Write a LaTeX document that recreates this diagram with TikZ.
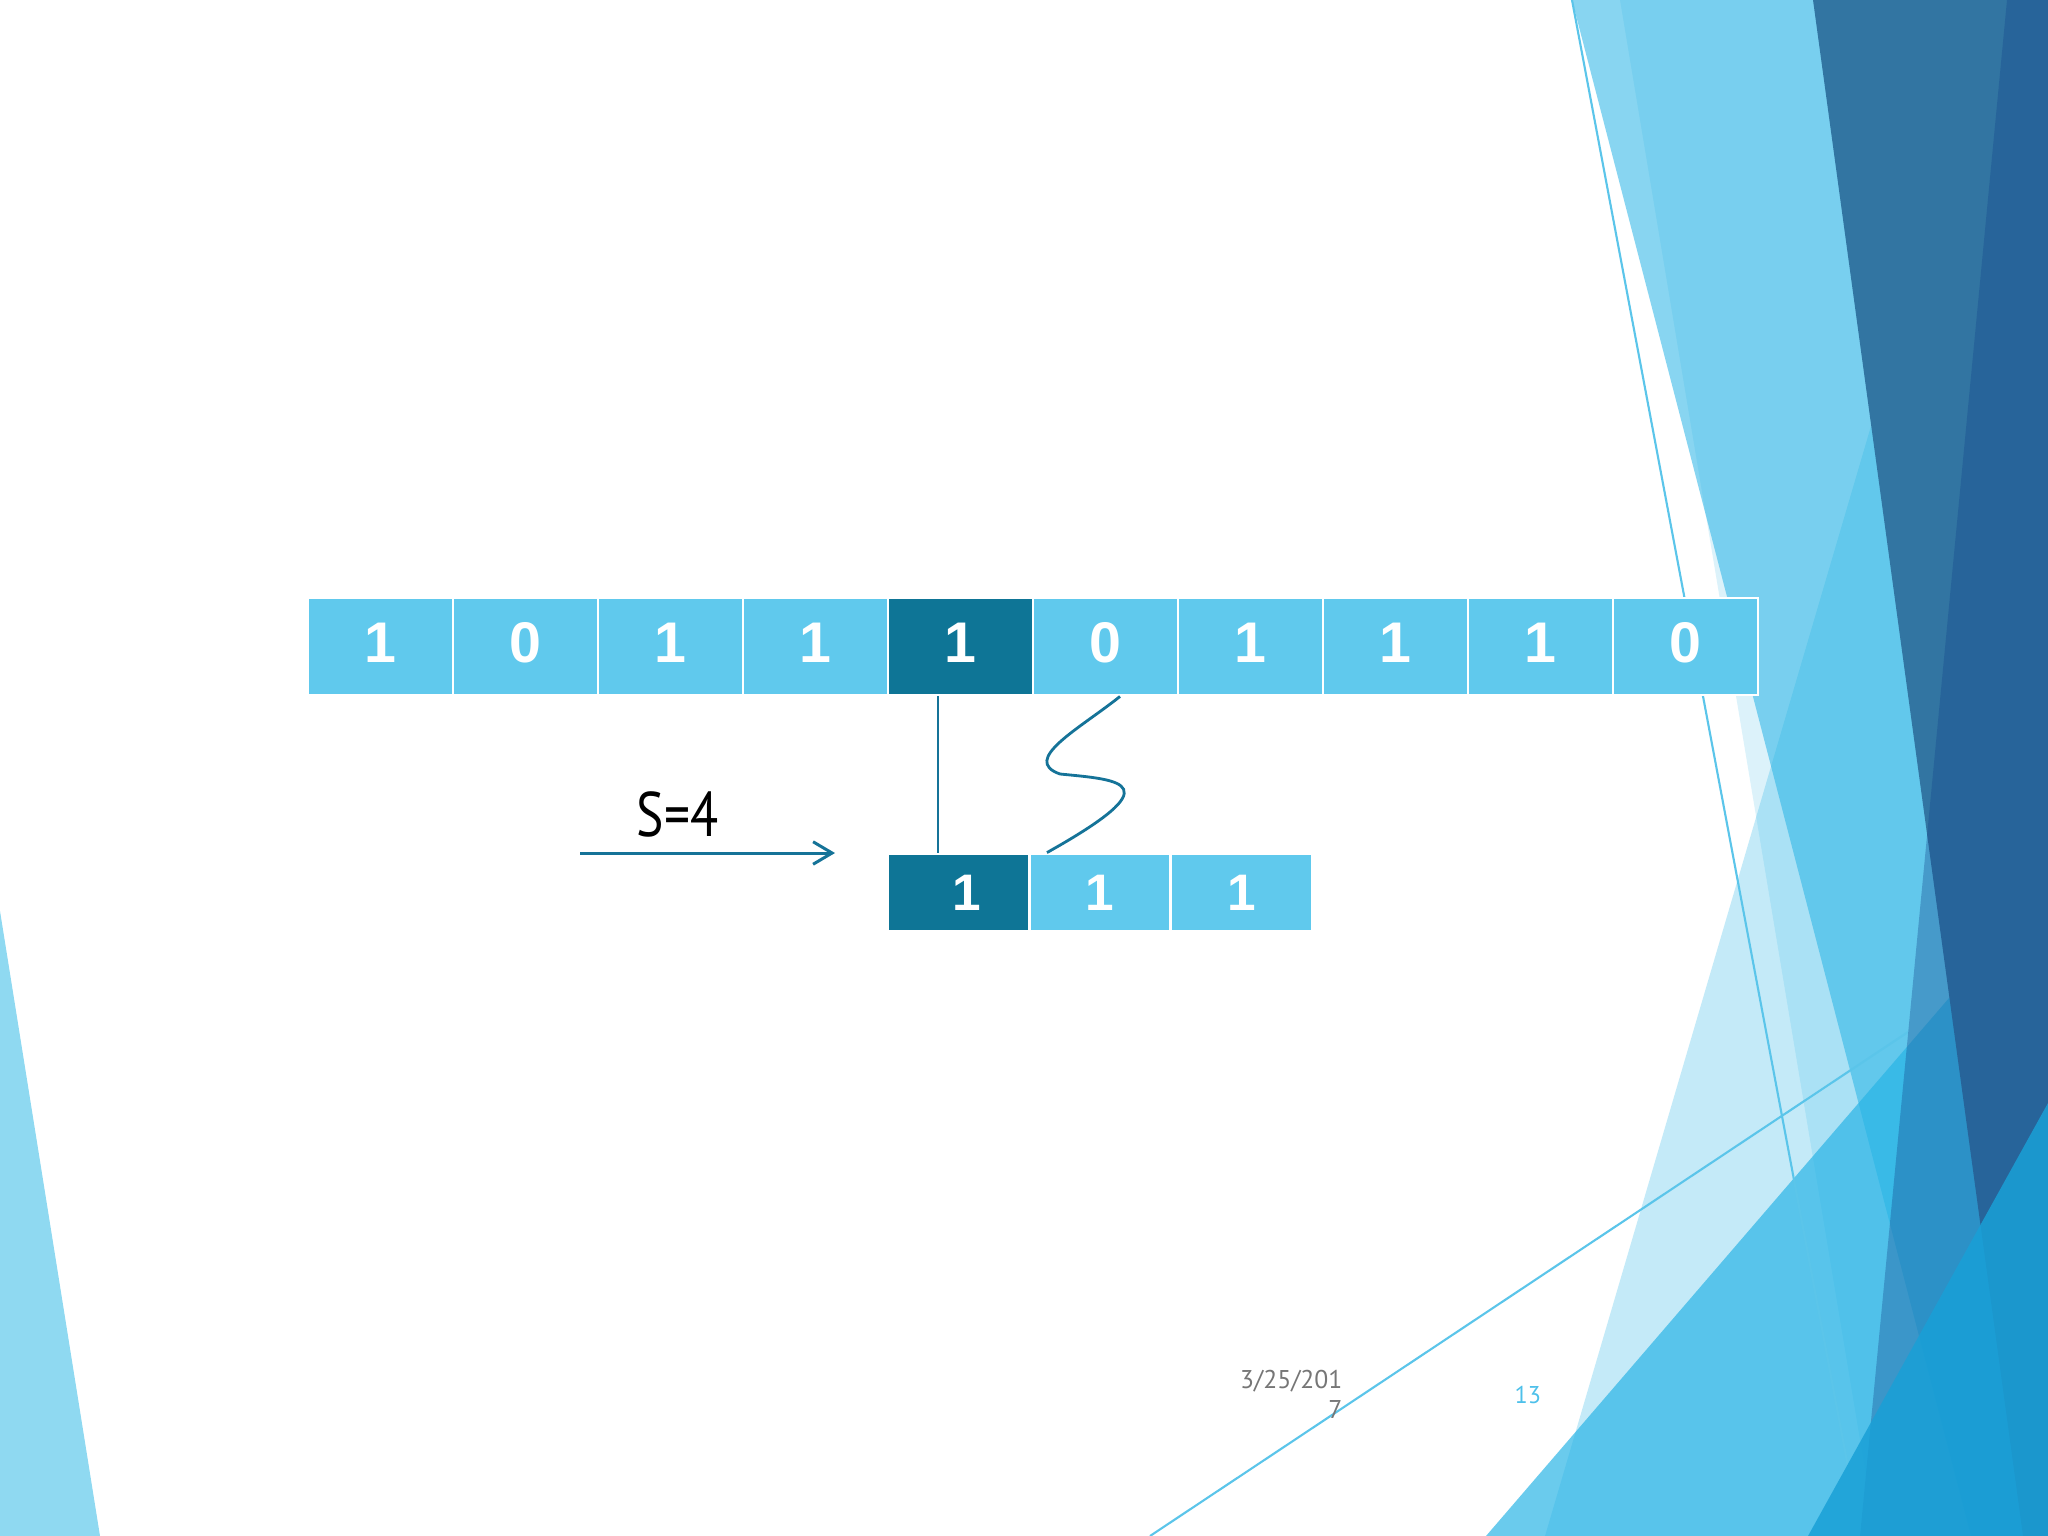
\documentclass[tikz,border=0pt]{standalone}
\usepackage{fontspec}
\usetikzlibrary{arrows.meta}
\newfontfamily\cellfont{Liberation Sans}
\newfontfamily\sfont[FakeStretch=0.82]{PT Sans}
\newfontfamily\datefont{PT Sans}
\definecolor{cellLight}{RGB}{96,201,237}
\definecolor{cellDark}{RGB}{14,117,150}
\definecolor{connC}{RGB}{21,115,152}
\definecolor{lineC}{RGB}{91,197,234}
\definecolor{accentA}{RGB}{40,180,230}
\definecolor{leftC}{RGB}{143,217,241}
\definecolor{darkC}{RGB}{50,117,162}
\definecolor{bandC}{RGB}{20,70,140}
\definecolor{triC}{RGB}{25,160,215}
\definecolor{dateC}{RGB}{118,118,118}
\definecolor{numC}{RGB}{77,192,234}
\begin{document}
\begin{tikzpicture}[x=0.01cm,y=-0.01cm,
  cellL/.style={draw=white,line width=0.8pt,fill=cellLight,minimum width=1.45cm,minimum height=0.97cm,inner sep=0pt,text depth=2.2pt,text=white,font={\cellfont\bfseries\fontsize{16.3}{19}\selectfont}},
  cellD/.style={cellL,fill=cellDark},
  bcellL/.style={cellL,minimum width=1.413cm,minimum height=0.77cm,text depth=0pt,font={\cellfont\bfseries\fontsize{14.6}{17}\selectfont}},
  bcellD/.style={bcellL,fill=cellDark},
  conn/.style={draw=connC,line width=0.85pt},
  thinline/.style={draw=lineC,line width=0.6pt},
  facet/.style={fill=accentA,draw=none}
]
\useasboundingbox (0,0) rectangle (2048,1536);
\fill[white] (0,0) rectangle (2048,1536);
\begin{scope}
\clip (0,0) rectangle (2048,1536);
% left decoration
\fill[leftC] (0,911) -- (100,1536) -- (0,1536) -- cycle;
% right facets
\fill[facet,fill opacity=0.27] (1871,426) -- (1545,1536) -- (2048,1536) -- (2048,426) -- cycle;
\fill[facet,fill opacity=0.55] (1572,0) -- (1971,1536) -- (2048,1536) -- (2048,0) -- cycle;
\fill[facet,fill opacity=0.16] (1620,0) -- (1876,1536) -- (2048,1536) -- (2048,0) -- cycle;
\fill[facet,fill opacity=0.69] (1486,1536) -- (2048,883) -- (2048,1536) -- cycle;
\draw[thinline] (1572,0) -- (1861,1536);
\draw[thinline] (1150,1536) -- (1908,1032);
\fill[darkC] (1813,0) -- (2048,0) -- (2048,1536) -- (2023,1536) -- cycle;
\fill[bandC,fill opacity=0.35] (2007,0) -- (2048,0) -- (2048,1536) -- (1860,1536) -- cycle;
\fill[triC,fill opacity=0.85] (1808,1536) -- (2048,1103) -- (2048,1536) -- cycle;
\end{scope}
% top row
\foreach \i/\v in {1/1,2/0,3/1,4/1,6/0,7/1,8/1,9/1,10/0}
  \node[cellL] (t\i) at ({308+145*\i-72.5},646.5) {\v};
\node[cellD] (t5) at (960.5,646.5) {1};
% bottom row
\node[bcellD] (b1) at (958.7,892.5) {\hspace{0.3em}1};
\node[bcellL] (b2) at (1100,892.5) {1};
\node[bcellL] (b3) at (1241.3,892.5) {1};
% connectors
\coordinate (v1) at ([xshift=-0.225cm]t5.south);
\draw[conn] (v1) -- (v1 |- b1.north);
\coordinate (c0) at ([xshift=0.145cm]t6.south);
\coordinate (cm) at (1060,774);
\coordinate (c1) at ([xshift=-0.53cm]b2.north);
\draw[conn,line width=0.8pt] (c0) .. controls +(-40,32) and +(-40,-14) .. (cm)
  .. controls +(62,6) and +(125,-70) .. (c1);
% shift arrow
\coordinate (a0) at (580,853);
\coordinate (a1) at (835,853);
\draw[conn,-{Straight Barb[length=5.4pt,width=6.4pt]}] (a0) -- (a1);
\node[anchor=base west,inner sep=0pt,font={\sfont\fontsize{17.9}{20}\selectfont}] (s) at (636,836) {S=4};
% footer
\node[anchor=north east,inner sep=0pt,align=right,text=dateC,font={\datefont\fontsize{7.3}{8.8}\selectfont}] (date) at (1343,1369) {3/25/201\\7};
\node[anchor=base west,inner sep=0pt,text=numC,font={\datefont\fontsize{6.9}{8}\selectfont}] (num) at (1514,1403) {13};
\end{tikzpicture}
\end{document}
